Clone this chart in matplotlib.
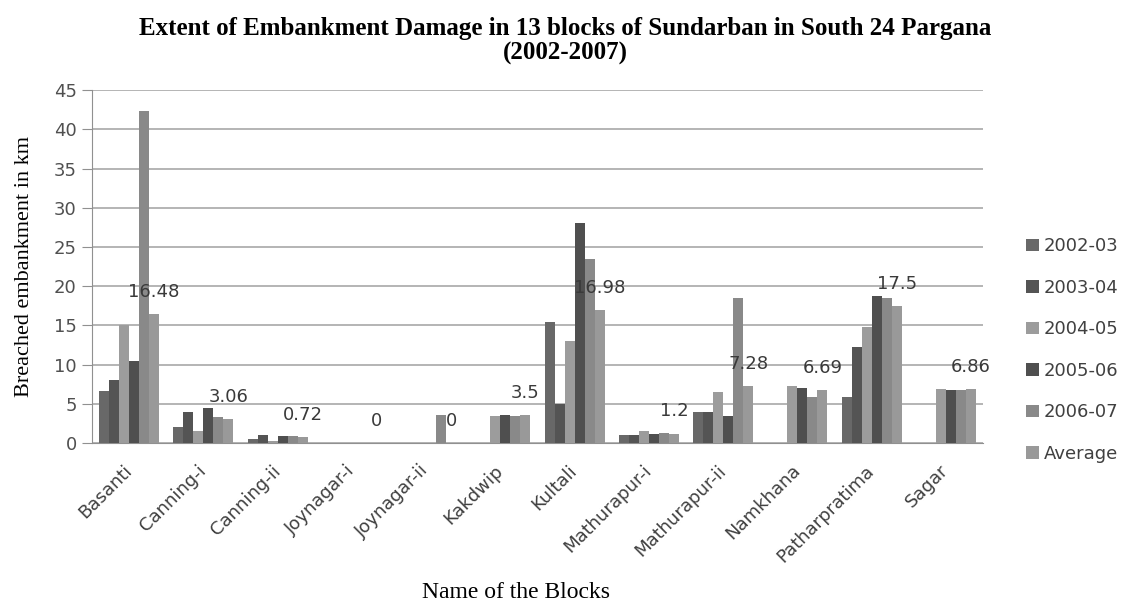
import numpy as np
import matplotlib
matplotlib.use("Agg")
from matplotlib import pyplot as plt

blocks = ['Basanti', 'Canning-i', 'Canning-ii', 'Joynagar-i', 'Joynagar-ii', 'Kakdwip',
          'Kultali', 'Mathurapur-i', 'Mathurapur-ii', 'Namkhana', 'Patharpratima', 'Sagar']
y2002_03 = [6.6, 2.0, 0.5, 0, 0, 0, 15.4, 1.0, 4.0, 0, 5.9, 0]
y2003_04 = [8.0, 4.0, 1.0, 0, 0, 0, 5.0, 1.0, 4.0, 0, 12.3, 0]
y2004_05 = [15.0, 1.5, 0.3, 0, 0, 3.4, 13.0, 1.5, 6.5, 7.2, 14.8, 6.9]
y2005_06 = [10.4, 4.5, 0.9, 0, 0, 3.6, 28.0, 1.2, 3.4, 7.0, 18.7, 6.8]
y2006_07 = [42.4, 3.3, 0.9, 0, 3.6, 3.4, 23.5, 1.3, 18.5, 5.9, 18.5, 6.7]
average = [16.48, 3.06, 0.72, 0, 0, 3.5, 16.98, 1.2, 7.28, 6.69, 17.5, 6.86]
avg_labels = ['16.48', '3.06', '0.72', '0', '0', '3.5', '16.98', '1.2', '7.28', '6.69', '17.5', '6.86']

series = [y2002_03, y2003_04, y2004_05, y2005_06, y2006_07, average]
names = ['2002-03', '2003-04', '2004-05', '2005-06', '2006-07', 'Average']
colors = ['#686868', '#545454', '#9c9c9c', '#4f4f4f', '#898989', '#999999']

fig = plt.figure(figsize=(11.27, 6.01), dpi=100)
ax = fig.add_axes([0.0816, 0.263, 0.7906, 0.587])

x = np.arange(len(blocks))
w = 0.135
for i, (vals, name, col) in enumerate(zip(series, names, colors)):
    ax.bar(x + (i - 2.5) * w, vals, w, color=col, label=name, zorder=3)

# labels on top of the average bars
for xi, v, lab in zip(x, average, avg_labels):
    ax.annotate(lab, (xi + 2.5 * w, v), xytext=(0, 16), textcoords='offset points',
                ha='center', va='center', fontsize=13, color='#3a3a3a', zorder=5)

ax.set_xlim(-0.5, len(blocks) - 0.5)
ax.set_ylim(0, 45)
ax.set_yticks(range(0, 46, 5))
ax.yaxis.grid(True, color='#a8a8a8', linewidth=1.2, zorder=0)
ax.set_axisbelow(True)
for s in ['top', 'right']:
    ax.spines[s].set_visible(False)
ax.spines['left'].set_color('#909090')
ax.spines['bottom'].set_color('#909090')
ax.tick_params(axis='y', length=7, color='#909090', labelsize=13, labelcolor='#505050', pad=4)
ax.tick_params(axis='x', length=0, labelsize=13, labelcolor='#404040', pad=18)
ax.set_xticks(x)
ax.set_xticklabels(blocks, rotation=45, ha='right', va='center', rotation_mode='anchor')

ax.set_ylabel('Breached embankment in km', family='Liberation Serif', fontsize=16, labelpad=14)
fig.text(516 / 1127, 1 - 592 / 601, 'Name of the Blocks', ha='center', va='center',
         family='Liberation Serif', fontsize=17)

fig.text(565 / 1127, 1 - 41 / 601, 'Extent of Embankment Damage in 13 blocks of Sundarban in South 24 Pargana\n(2002-2007)',
         ha='center', va='center', family='Liberation Serif', fontweight='bold', fontsize=18,
         linespacing=1.1)

fig.legend(loc='upper left', bbox_to_anchor=(0.896, 0.632), frameon=False, fontsize=13,
           handlelength=0.7, handleheight=0.7, handletextpad=0.3, labelspacing=1.3,
           labelcolor='#404040')

fig.savefig('out.png', dpi=100)
